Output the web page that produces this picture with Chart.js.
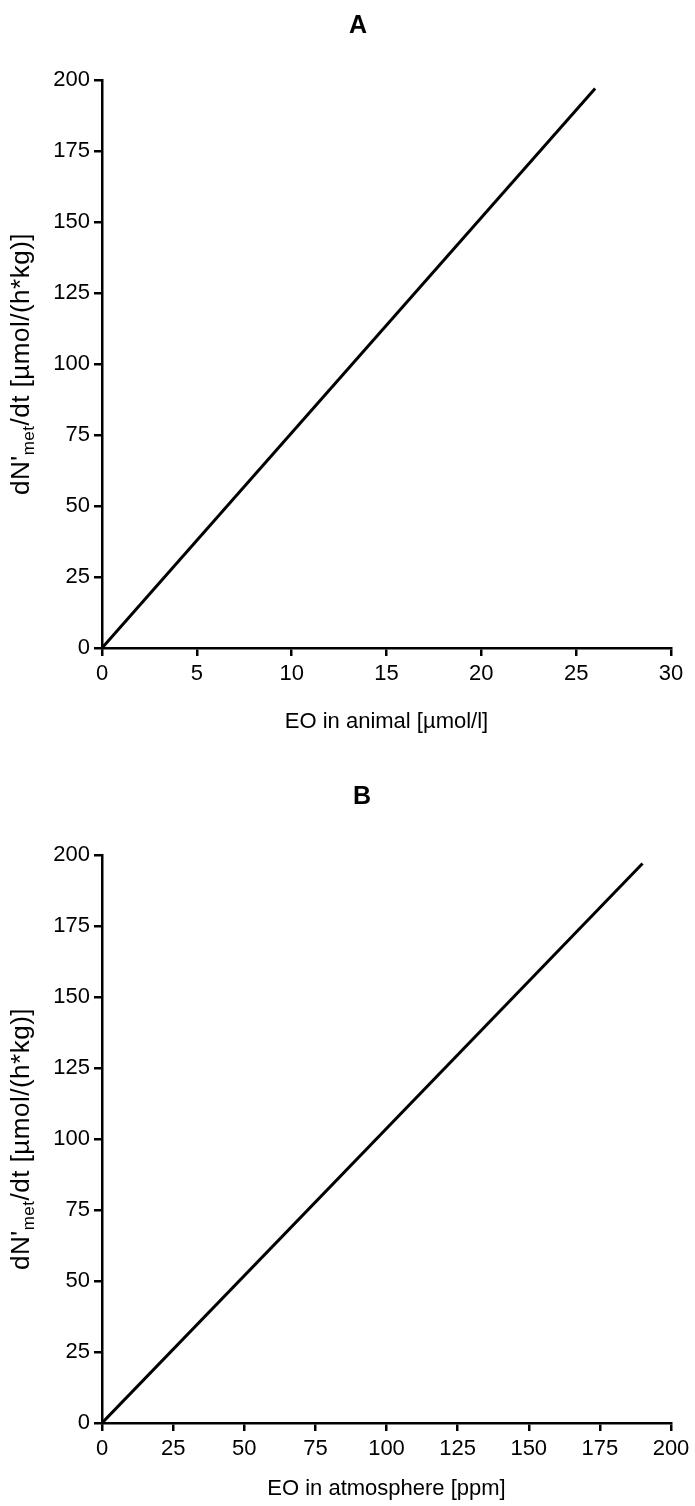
<!DOCTYPE html>
<html>
<head>
<meta charset="utf-8">
<script src="https://cdn.jsdelivr.net/npm/chart.js@4.4.0/dist/chart.umd.min.js"></script>
<style>
  html, body { margin: 0; padding: 0; background: #fff; }
  .panel { position: absolute; left: 0; width: 695px; height: 753px; }
</style>
</head>
<body>
<div class="panel" style="top:0"><canvas id="chartA" width="695" height="753"></canvas></div>
<div class="panel" style="top:753px"><canvas id="chartB" width="695" height="753"></canvas></div>
<script>
// metabolic rate, shared y axis
const rateTicks = [0, 25, 50, 75, 100, 125, 150, 175, 200];

// panel A: EO in animal
const animalConc = [0, 26];
const animalRate = [0, 197];
const animalTicks = [0, 5, 10, 15, 20, 25, 30];

// panel B: EO in atmosphere
const atmosConc = [0, 190];
const atmosRate = [0, 197];
const atmosTicks = [0, 25, 50, 75, 100, 125, 150, 175, 200];

const FONT = 'Arial, "Liberation Sans", sans-serif';
Chart.defaults.font.family = FONT;
Chart.defaults.color = '#000';

// panel letter + y axis title (with "met" subscript)
const panelText = {
    id: 'panelText',
    afterDraw(chart, args, opts) {
        const { ctx, chartArea } = chart;
        ctx.save();
        ctx.fillStyle = '#000';
        ctx.font = 'bold 25px ' + FONT;
        ctx.textAlign = 'center';
        ctx.textBaseline = 'middle';
        ctx.fillText(opts.letter, opts.letterX, opts.letterY);

        ctx.translate(21, (chartArea.top + chartArea.bottom) / 2);
        ctx.rotate(-Math.PI / 2);
        ctx.textAlign = 'left';
        ctx.textBaseline = 'alphabetic';
        ctx.letterSpacing = '0.5px';
        const parts = [
            ["dN'", '26px ' + FONT, 0],
            ['met', '17px ' + FONT, 5],
            ['/dt [µmol/(h*kg)]', '26px ' + FONT, 0]
        ];
        let total = 0;
        parts.forEach(p => { ctx.font = p[1]; total += ctx.measureText(p[0]).width; });
        let x = -total / 2;
        parts.forEach(p => {
            ctx.font = p[1];
            ctx.fillText(p[0], x, 8 + p[2]);
            x += ctx.measureText(p[0]).width;
        });
        ctx.restore();
    }
};

function makeChart(id, xs, ys, xTicks, xTitle, lay) {
    const points = xs.map((x, i) => ({ x: x, y: ys[i] }));
    const axisGrid = { drawOnChartArea: false, drawTicks: true, tickLength: 8, color: '#000', lineWidth: 2.5 };
    const axisBorder = { display: true, color: '#000', width: 2.5 };
    return new Chart(document.getElementById(id).getContext('2d'), {
        type: 'line',
        data: {
            datasets: [{
                data: points,
                borderColor: '#000',
                borderWidth: 3,
                pointRadius: 0,
                tension: 0,
                fill: false
            }]
        },
        options: {
            responsive: false,
            animation: false,
            devicePixelRatio: 1,
            layout: { padding: { top: lay.top, left: 0, right: 24, bottom: 0 } },
            plugins: {
                legend: { display: false },
                tooltip: { enabled: false },
                panelText: { letter: lay.letter, letterX: lay.letterX, letterY: lay.letterY }
            },
            scales: {
                x: {
                    type: 'linear',
                    min: xTicks[0],
                    max: xTicks[xTicks.length - 1],
                    afterBuildTicks: s => { s.ticks = xTicks.map(v => ({ value: v })); },
                    afterFit: s => { s.height = lay.xHeight; },
                    grid: axisGrid,
                    border: axisBorder,
                    ticks: { font: { size: 22 }, padding: 5, maxRotation: 0 },
                    title: { display: true, text: xTitle, font: { size: 22 }, padding: { top: 0, bottom: lay.xTitlePad } }
                },
                y: {
                    type: 'linear',
                    min: rateTicks[0],
                    max: rateTicks[rateTicks.length - 1],
                    afterBuildTicks: s => { s.ticks = rateTicks.map(v => ({ value: v })); },
                    afterFit: s => { s.width = 102; },
                    grid: axisGrid,
                    border: axisBorder,
                    ticks: { font: { size: 22 }, padding: 4 }
                }
            }
        },
        plugins: [panelText]
    });
}

makeChart('chartA', animalConc, animalRate, animalTicks, 'EO in animal [µmol/l]',
    { top: 80, xHeight: 105, xTitlePad: 18, letter: 'A', letterX: 358, letterY: 26 });
makeChart('chartB', atmosConc, atmosRate, atmosTicks, 'EO in atmosphere [ppm]',
    { top: 102, xHeight: 83, xTitlePad: 4, letter: 'B', letterX: 362, letterY: 44 });
</script>
</body>
</html>
